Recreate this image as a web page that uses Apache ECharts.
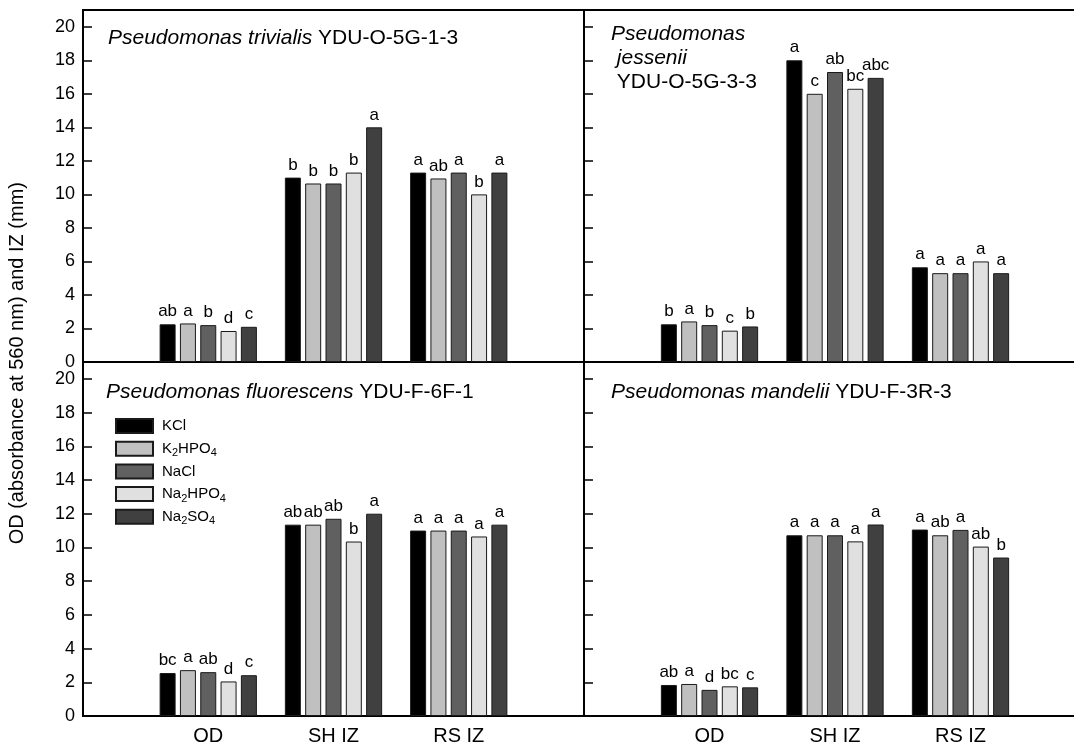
<!DOCTYPE html>
<html>
<head>
<meta charset="utf-8">
<script src="https://cdn.jsdelivr.net/npm/echarts@6/dist/echarts.min.js"></script>
<style>
html, body { margin: 0; padding: 0; background: #fff; }
#chart { width: 1074px; height: 751px; }
</style>
</head>
<body>
<div id="chart"></div>
<script>
// categories on x (empty ends keep the groups off the frame)
const categories = ['', 'OD', 'SH IZ', 'RS IZ', ''];
const salts = ['KCl', 'K2HPO4', 'NaCl', 'Na2HPO4', 'Na2SO4'];
const saltColors = ['#000000', '#c0c0c0', '#606060', '#e0e0e0', '#404040'];

// one row per salt: [OD, SH IZ, RS IZ]
const trivialisValues = [[2.25, 11.0, 11.3], [2.3, 10.65, 10.95], [2.2, 10.65, 11.3], [1.85, 11.3, 10.0], [2.1, 14.0, 11.3]];
const trivialisLetters = [['ab', 'b', 'a'], ['a', 'b', 'ab'], ['b', 'b', 'a'], ['d', 'b', 'b'], ['c', 'a', 'a']];

const jesseniiValues = [[2.25, 18.0, 5.65], [2.42, 16.0, 5.3], [2.2, 17.3, 5.3], [1.87, 16.3, 6.0], [2.12, 16.95, 5.3]];
const jesseniiLetters = [['b', 'a', 'a'], ['a', 'c', 'a'], ['b', 'ab', 'a'], ['c', 'bc', 'a'], ['b', 'abc', 'a']];

const fluorescensValues = [[2.55, 11.35, 11.0], [2.72, 11.35, 11.0], [2.6, 11.7, 11.0], [2.05, 10.35, 10.65], [2.42, 12.0, 11.35]];
const fluorescensLetters = [['bc', 'ab', 'a'], ['a', 'ab', 'a'], ['ab', 'ab', 'a'], ['d', 'b', 'a'], ['c', 'a', 'a']];

const mandeliiValues = [[1.84, 10.72, 11.06], [1.9, 10.72, 10.72], [1.55, 10.72, 11.04], [1.76, 10.36, 10.05], [1.7, 11.36, 9.4]];
const mandeliiLetters = [['ab', 'a', 'a'], ['a', 'a', 'ab'], ['d', 'a', 'a'], ['bc', 'a', 'ab'], ['c', 'a', 'b']];

const yMax = 21;
const yInterval = 2;
const fontFamily = 'Liberation Sans, Arial, sans-serif';

const panels = [
    { values: trivialisValues, letters: trivialisLetters, grid: { left: 83, top: 10, width: 501, height: 352 },
      title: '{i|Pseudomonas trivialis} YDU-O-5G-1-3', titlePos: { left: 108, top: 26 }, yLabels: true, xLabels: false },
    { values: jesseniiValues, letters: jesseniiLetters, grid: { left: 584, top: 10, width: 502, height: 352 },
      title: '{i|Pseudomonas}\n{i| jessenii}\n YDU-O-5G-3-3', titlePos: { left: 611, top: 22 }, yLabels: false, xLabels: false },
    { values: fluorescensValues, letters: fluorescensLetters, grid: { left: 83, top: 362, width: 501, height: 354 },
      title: '{i|Pseudomonas fluorescens} YDU-F-6F-1', titlePos: { left: 106, top: 380 }, yLabels: true, xLabels: true },
    { values: mandeliiValues, letters: mandeliiLetters, grid: { left: 584, top: 362, width: 502, height: 354 },
      title: '{i|Pseudomonas mandelii} YDU-F-3R-3', titlePos: { left: 611, top: 380 }, yLabels: false, xLabels: true }
];

const chart = echarts.init(document.getElementById('chart'));

const grids = [], xAxes = [], yAxes = [], titles = [], series = [];
panels.forEach((p, k) => {
    grids.push(Object.assign({ show: true, borderColor: '#000', borderWidth: 2, outerBoundsMode: 'none' }, p.grid));
    xAxes.push({
        type: 'category', gridIndex: k, data: categories, boundaryGap: false,
        axisLine: { lineStyle: { color: '#000', width: 2 } },
        axisTick: { show: false },
        splitLine: { show: false },
        axisLabel: { show: p.xLabels, color: '#000', fontSize: 20, margin: 10, fontFamily: fontFamily, interval: 0 }
    });
    yAxes.push({
        type: 'value', gridIndex: k, min: 0, max: yMax, interval: yInterval,
        axisLine: { show: true, lineStyle: { color: '#000', width: 2 } },
        axisTick: { show: true, inside: true, length: 9, lineStyle: { color: '#000', width: 1.5 } },
        splitLine: { show: false },
        axisLabel: { show: p.yLabels, color: '#000', fontSize: 18, margin: 8, fontFamily: fontFamily,
            formatter: v => (v > 20 ? '' : String(v)) }
    });
    titles.push(Object.assign({
        text: p.title, padding: 0,
        textStyle: { fontSize: 21, fontWeight: 'normal', color: '#000', fontFamily: fontFamily, lineHeight: 24,
            rich: { i: { fontStyle: 'italic', fontSize: 21, color: '#000', fontFamily: fontFamily, lineHeight: 24 } } }
    }, p.titlePos));
    salts.forEach((name, s) => {
        const letters = p.letters[s];
        series.push({
            type: 'bar', name: name, xAxisIndex: k, yAxisIndex: k,
            barWidth: 16, barGap: '27%',
            itemStyle: { color: saltColors[s], borderColor: '#1a1a1a', borderWidth: 1 },
            label: { show: true, position: 'top', distance: 4, color: '#000', fontSize: 17, fontFamily: fontFamily,
                formatter: q => letters[q.dataIndex] },
            data: p.values[s].map((v, i) => [i + 1, v])
        });
    });
});

const option = {
    animation: false,
    textStyle: { fontFamily: fontFamily },
    title: titles,
    grid: grids,
    xAxis: xAxes,
    yAxis: yAxes,
    legend: {
        data: salts, orient: 'vertical', left: 115, top: 416, padding: 0,
        itemWidth: 37, itemHeight: 14, itemGap: 2.7, icon: 'rect',
        formatter: name => name.replace(/(\d)/g, '{s|$1}'),
        textStyle: { color: '#000', fontSize: 15, lineHeight: 20, fontFamily: fontFamily, padding: [0, 0, 0, 4],
            rich: { s: { fontSize: 11, lineHeight: 11, padding: [9, 0, 0, 0], verticalAlign: 'top', color: '#000', fontFamily: fontFamily } } }
    },
    graphic: [{
        type: 'text', left: 7, top: 182, rotation: Math.PI / 2,
        style: { text: 'OD (absorbance at 560 nm) and IZ (mm)', fontSize: 20, fill: '#000', fontFamily: fontFamily }
    }],
    series: series
};
chart.setOption(option);
</script>
</body>
</html>
